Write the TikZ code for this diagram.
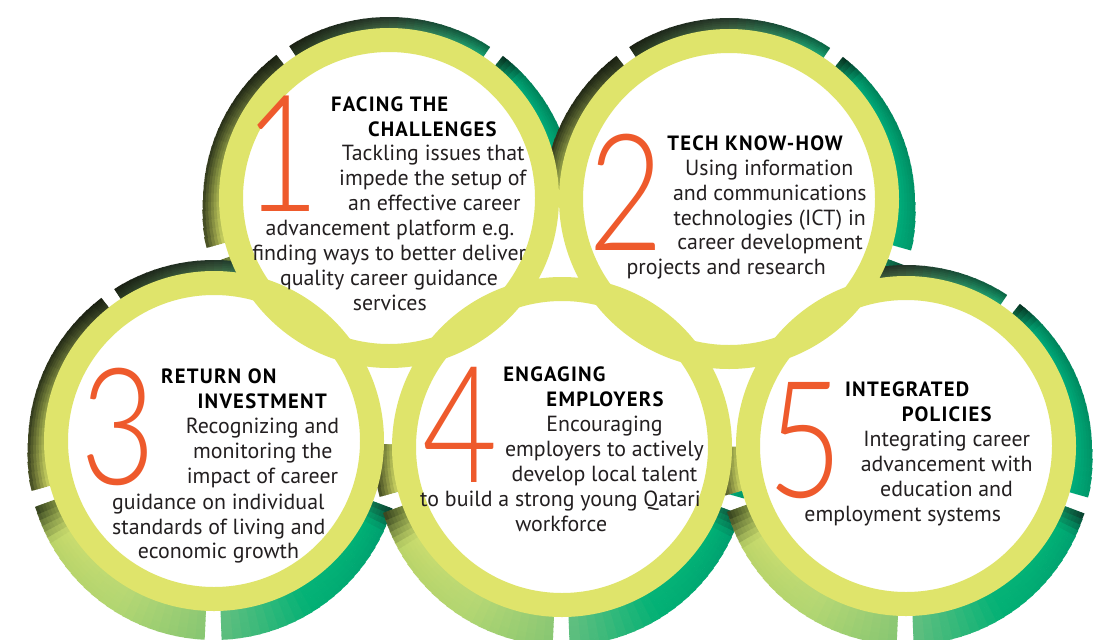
\documentclass[tikz,border=0pt]{standalone}
\usepackage{fontspec}
\setmainfont{PT Sans}
\newfontfamily\numfont[FakeStretch=0.8]{Lato Light}
\definecolor{ylw}{HTML}{DFE46B}
\definecolor{org}{HTML}{EE5A2C}
\definecolor{txtc}{HTML}{231F20}
% segment colour stops (outer edge / inner edge)
\definecolor{aO1}{HTML}{062E1E}\definecolor{aI1}{HTML}{0E5A3A}
\definecolor{aO2}{HTML}{00825A}\definecolor{aI2}{HTML}{00A676}
\definecolor{aO3}{HTML}{009A6C}\definecolor{aI3}{HTML}{00AC7A}
\definecolor{eO1}{HTML}{0A3A2A}\definecolor{eI1}{HTML}{106A48}
\definecolor{eO2}{HTML}{00A070}\definecolor{eI2}{HTML}{00B075}
\definecolor{eO3}{HTML}{02B074}\definecolor{eI3}{HTML}{06B377}
\definecolor{eO4}{HTML}{5EBE7E}\definecolor{eI4}{HTML}{64C080}
\definecolor{dO1}{HTML}{86C672}\definecolor{dI1}{HTML}{8CC874}
\definecolor{dO2}{HTML}{B2D672}\definecolor{dI2}{HTML}{B8D874}
\definecolor{dO3}{HTML}{BCD468}\definecolor{dI3}{HTML}{CADC6E}
\definecolor{dO4}{HTML}{2E3A1A}\definecolor{dI4}{HTML}{6A7A36}
\definecolor{cO1}{HTML}{4C5426}\definecolor{cI1}{HTML}{C4CC5E}
\definecolor{cO2}{HTML}{353D1E}\definecolor{cI2}{HTML}{8C9844}
\definecolor{cO3}{HTML}{1A2012}\definecolor{cI3}{HTML}{2E3820}
\definecolor{bO1}{HTML}{1A2012}\definecolor{bI1}{HTML}{2A3A22}
\definecolor{bO2}{HTML}{26382A}\definecolor{bI2}{HTML}{3E6040}
\definecolor{bO3}{HTML}{0A6A48}\definecolor{bI3}{HTML}{18A070}

% one shaded piece of an outer ring segment
\newcommand\rpiece[7]{%
  \foreach \k in {1,...,#7}{%
    \pgfmathsetmacro\angA{#1+(#2-#1)*(\k-1)/#7}%
    \pgfmathsetmacro\angB{#1+(#2-#1)*\k/#7+0.5}%
    \pgfmathtruncatemacro\pcA{100*(\k-0.5)/#7}%
    \colorlet{rpo}{#5!\pcA!#3}%
    \colorlet{rpi}{#6!\pcA!#4}%
    \pgfmathsetmacro\rgSin{sin((\angA+\angB)/2)}%
    \pgfmathsetmacro\rgOut{186+5*\rgSin+8*max(0,\rgSin)}%
    \foreach \j in {0,...,5}{%
      \pgfmathsetmacro\rgLo{\j==0 ? 163 : 170+(\rgOut-170)*\j/6}%
      \pgfmathsetmacro\rgHi{170+(\rgOut-170)*(\j+1)/6+(\j<5 ? 0.5 : 0)}%
      \pgfmathsetmacro\rgMid{(\rgLo+\rgHi)/2}%
      \pgfmathsetmacro\rgW{(\rgHi-\rgLo)*0.75}%
      \pgfmathtruncatemacro\pcB{100*\j/5}%
      \colorlet{rpc}{rpo!\pcB!rpi}%
      \draw[line width=\rgW pt, rpc] (\CX,\CY) ++(\angA:\rgMid) arc[start angle=\angA, end angle=\angB, radius=\rgMid];
    }%
  }%
}
% the five shaded segments round one circle
\newcommand\ringset[2]{%
  \def\CX{#1}\def\CY{#2}%
  \rpiece{308.7}{318}{aO1}{aI1}{aO2}{aI2}{5}%
  \rpiece{318}{375.3}{aO2}{aI2}{aO3}{aI3}{20}%
  \rpiece{20.7}{28}{eO1}{eI1}{eO2}{eI2}{4}%
  \rpiece{28}{60}{eO2}{eI2}{eO3}{eI3}{12}%
  \rpiece{60}{87.3}{eO3}{eI3}{eO4}{eI4}{10}%
  \rpiece{92.7}{120}{dO1}{dI1}{dO2}{dI2}{10}%
  \rpiece{120}{148}{dO2}{dI2}{dO3}{dI3}{10}%
  \rpiece{148}{159.3}{dO3}{dI3}{dO4}{dI4}{6}%
  \rpiece{164.7}{190}{cO1}{cI1}{cO2}{cI2}{9}%
  \rpiece{190}{231.3}{cO2}{cI2}{cO3}{cI3}{14}%
  \rpiece{236.7}{270}{bO1}{bI1}{bO2}{bI2}{12}%
  \rpiece{270}{303.3}{bO2}{bI2}{bO3}{bI3}{12}%
}

\tikzset{
  ht/.style={anchor=base, inner sep=0pt, text=black, font=\bfseries\fontsize{15.5}{18}\selectfont\addfontfeatures{LetterSpace=6}},
  bt/.style={anchor=base, inner sep=0pt, text=txtc, font=\fontsize{16.4}{18}\selectfont},
  num/.style={anchor=base, inner sep=0pt, text height=86pt, text depth=0pt, text=org, font=\numfont\fontsize{122}{122}\selectfont},
  yring/.style={draw=ylw, line width=18pt}
}

\begin{document}
\begin{tikzpicture}[x=0.75pt,y=-0.75pt]
\useasboundingbox (0,0) rectangle (1113,639);
\clip (0,0) rectangle (1113,639);
\fill[white] (0,0) rectangle (1113,639);

\coordinate (c1) at (389,198);
\coordinate (c2) at (729,199);
\coordinate (c3) at (214,441);
\coordinate (c4) at (562,447);
\coordinate (c5) at (906,446);

% outer shaded rings
\ringset{389}{198}
\ringset{729}{199}
\ringset{214}{441}
\ringset{562}{447}
\ringset{906}{446}

% white interiors and inner gaps of the cluster
\fill[white] (c1) -- (c3) -- (c4) -- cycle;
\fill[white] (c1) -- (c2) -- (c4) -- cycle;
\fill[white] (c2) -- (c4) -- (c5) -- cycle;
\foreach \c in {c1,c2,c3,c4,c5} \fill[white] (\c) circle[radius=166];

% yellow rings
\foreach \c in {c1,c2,c3,c4,c5} \draw[yring] (\c) circle[radius=158];

% numerals
\node[num] (n1) at (282.5,211) {1};
\node[num] (n2) at (626.3,250.7) {2};
\node[num] (n3) at (118,484) {3};
\node[num] (n4) at (460.5,482.7) {4};
\node[num] (n5) at (805,497) {5};

% circle 1
\node[ht] (h1a) at (389.7,111) {FACING THE};
\node[ht] (h1b) at (432.3,136) {CHALLENGES};
\node[bt] (t1a) at (433.3,160.7) {Tackling issues that};
\node[bt] (t1b) at (432.8,185.3) {impede the setup of};
\node[bt] (t1c) at (434.3,210) {an effective career};
\node[bt] (t1d) at (390,235) {advancement platform e.g.};
\node[bt] (t1e) at (389.2,260) {finding ways to better deliver};
\node[bt] (t1f) at (389,285) {quality career guidance};
\node[bt] (t1g) at (389.8,310) {services};

% circle 2
\node[ht] (h2a) at (755,150.7) {TECH KNOW-HOW};
\node[bt] (t2a) at (769.2,175) {Using information};
\node[bt] (t2b) at (769.8,200) {and communications};
\node[bt] (t2c) at (769.7,225) {technologies (ICT) in};
\node[bt] (t2d) at (770,249.3) {career development};
\node[bt] (t2e) at (726.2,274) {projects and research};

% circle 3
\node[ht] (h3a) at (218.8,383.3) {RETURN ON};
\node[ht] (h3b) at (262.2,408.3) {INVESTMENT};
\node[bt] (t3a) at (262.5,433.3) {Recognizing and};
\node[bt] (t3b) at (262.8,458.3) {monitoring the};
\node[bt] (t3c) at (262.5,483.3) {impact of career};
\node[bt] (t3d) at (218.3,509.3) {guidance on individual};
\node[bt] (t3e) at (218.8,534) {standards of living and};
\node[bt] (t3f) at (218.5,558.3) {economic growth};

% circle 4
\node[ht] (h4a) at (554.5,381.7) {ENGAGING};
\node[ht] (h4b) at (605,406.7) {EMPLOYERS};
\node[bt] (t4a) at (604.5,431.7) {Encouraging};
\node[bt] (t4b) at (604.5,456.7) {employers to actively};
\node[bt] (t4c) at (604.5,481.7) {develop local talent};
\node[bt] (t4d) at (560.5,506.7) {to build a strong young Qatari};
\node[bt] (t4e) at (561.2,531.7) {workforce};

% circle 5
\node[ht] (h5a) at (907.2,396.7) {INTEGRATED};
\node[ht] (h5b) at (946.7,421.7) {POLICIES};
\node[bt] (t5a) at (946.7,446.7) {Integrating career};
\node[bt] (t5b) at (946.7,471.7) {advancement with};
\node[bt] (t5c) at (946.5,496.7) {education and};
\node[bt] (t5d) at (902.8,521.7) {employment systems};
\end{tikzpicture}
\end{document}
